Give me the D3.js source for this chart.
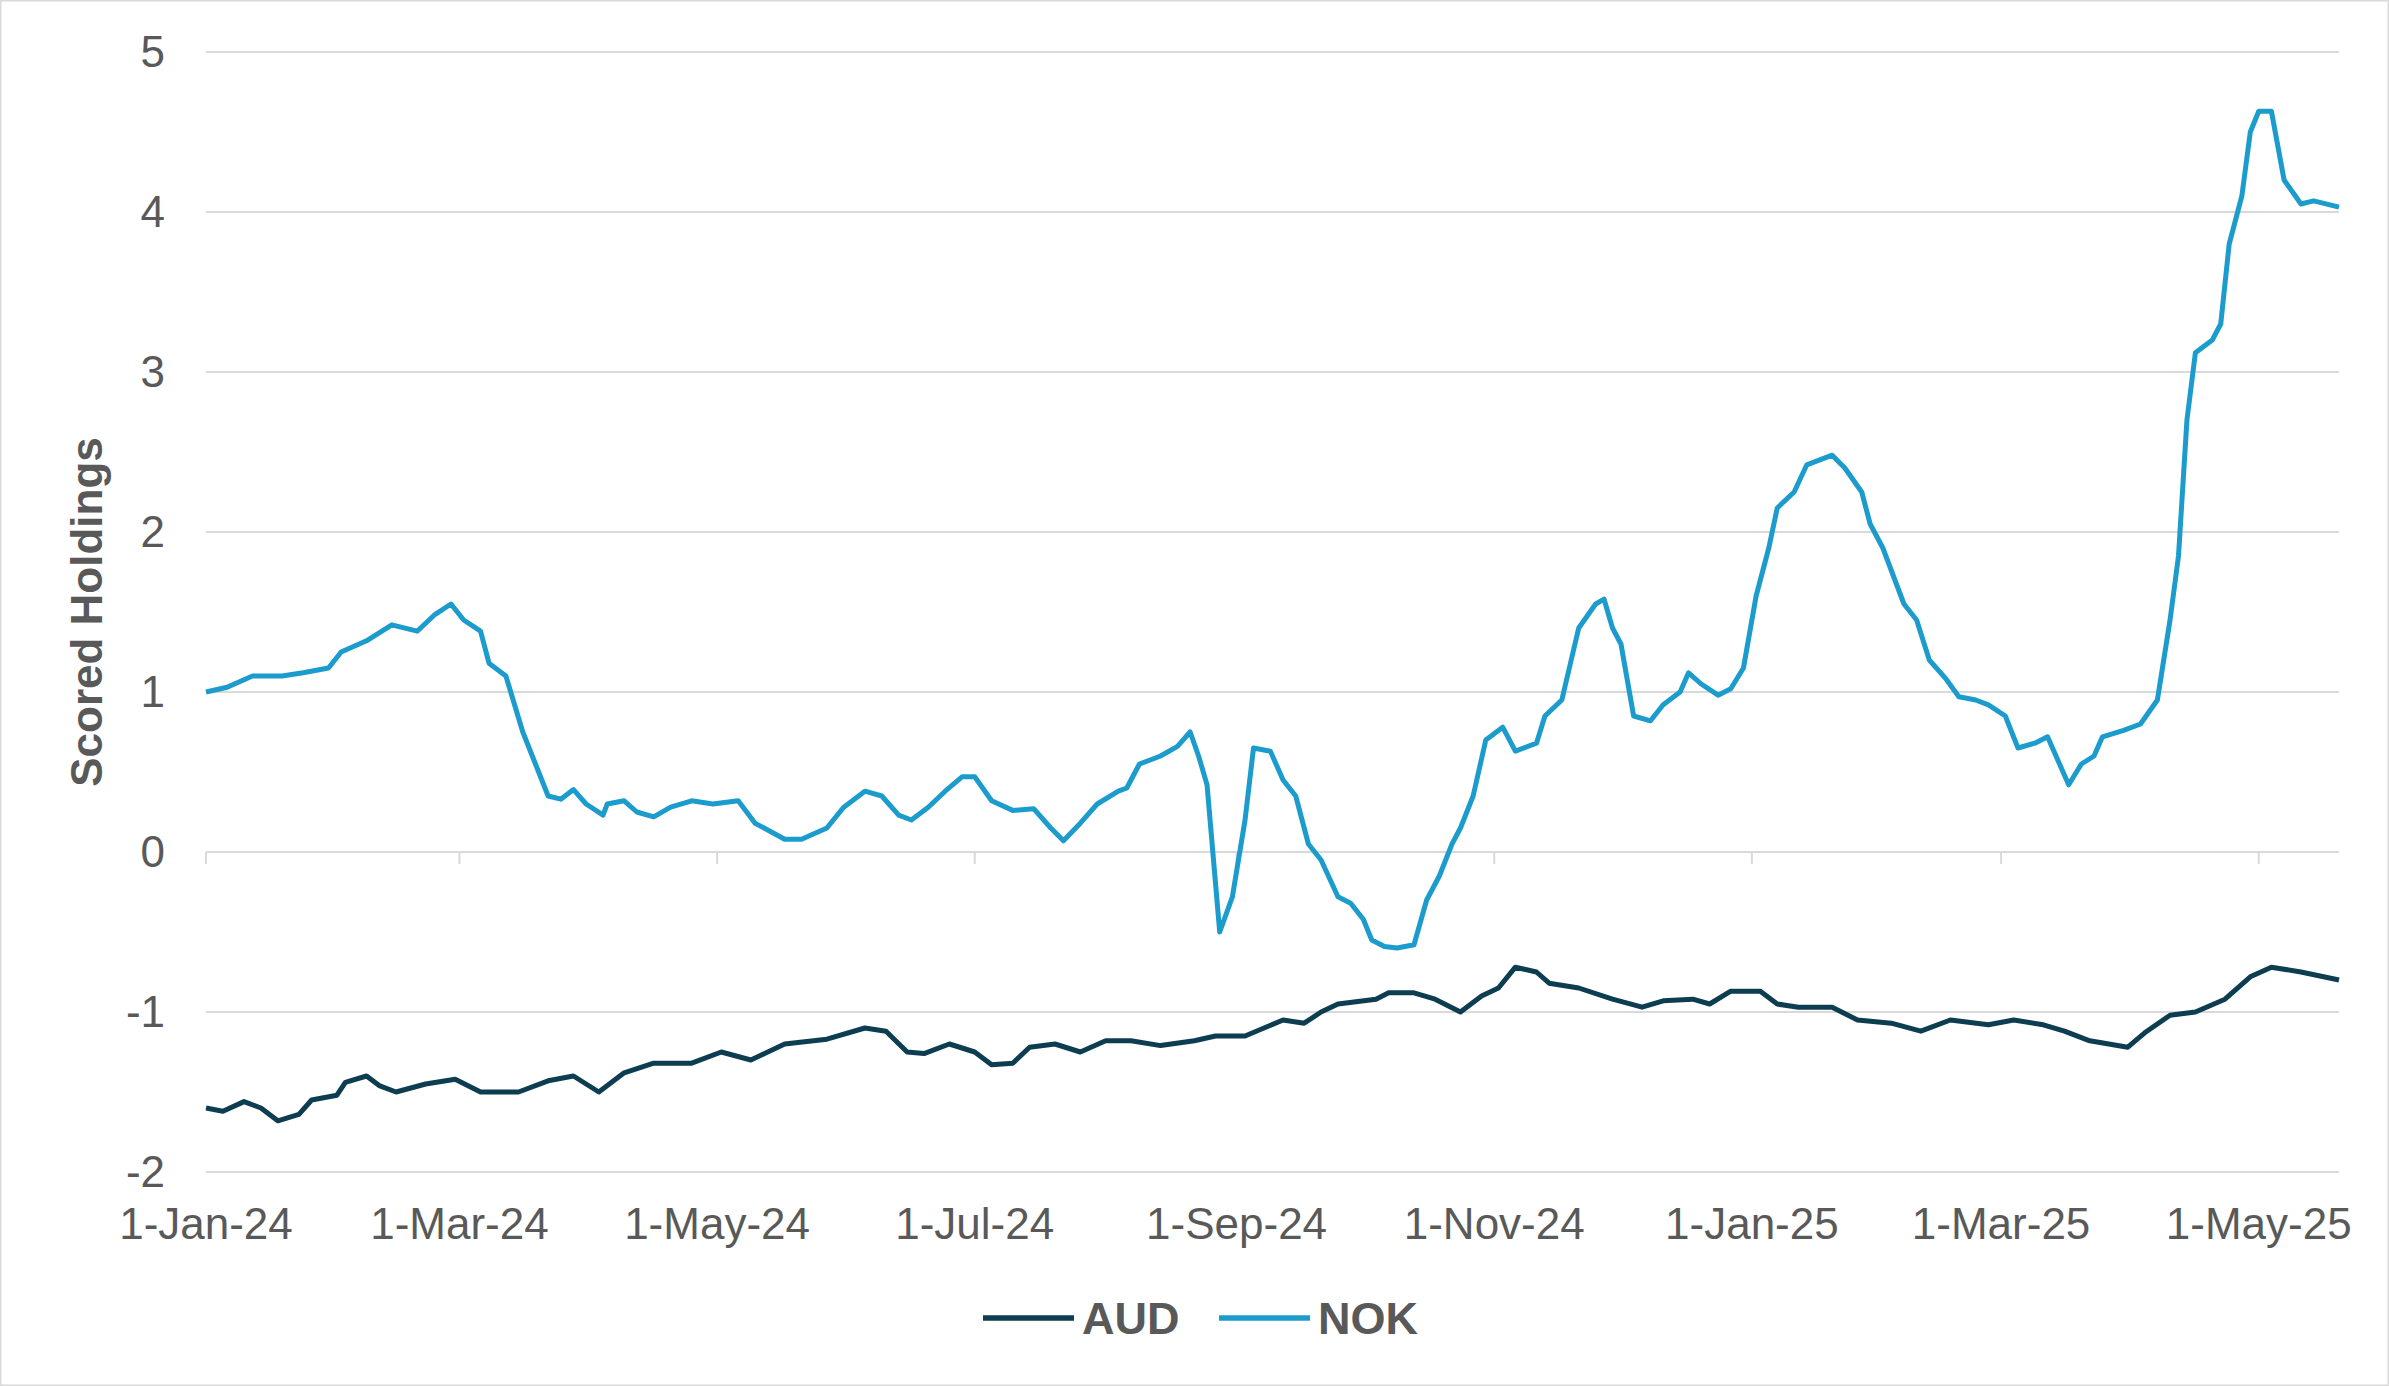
<!DOCTYPE html>
<html><head><meta charset="utf-8">
<script src="https://cdn.jsdelivr.net/npm/d3@7"></script>
<style>body{margin:0;background:#fff}svg{display:block}</style>
</head><body>
<svg id="c" width="2389" height="1386"></svg>
<script>
// days since 2024-01-01
const nokDays=[0,5,11,18,23,29,32,38,44,50,54,58,61,65,67,71,75,78,81,84,87,90,94,95,99,102,106,110,115,120,126,130,137,141,147,151,156,160,164,167,171,175,179,182,186,191,196,200,203,207,211,216,218,221,226,230,233,235,237,240,243,246,248,252,255,258,261,264,268,271,274,276,279,282,286,289,292,295,297,300,303,307,310,315,317,321,325,329,331,333,335,338,342,345,349,351,354,358,361,364,367,370,372,376,379,385,388,392,394,397,402,405,408,412,415,419,422,426,429,433,436,438,441,444,447,449,454,458,462,465,467,469,471,475,477,479,482,484,486,489,492,496,499,505];
const nokVals=[1.0,1.03,1.1,1.1,1.12,1.15,1.25,1.32,1.42,1.38,1.48,1.55,1.45,1.38,1.18,1.1,0.75,0.55,0.35,0.33,0.39,0.3,0.23,0.3,0.32,0.25,0.22,0.28,0.32,0.3,0.32,0.18,0.08,0.08,0.15,0.28,0.38,0.35,0.23,0.2,0.28,0.38,0.47,0.47,0.32,0.26,0.27,0.15,0.07,0.18,0.3,0.38,0.4,0.55,0.6,0.66,0.75,0.6,0.42,-0.5,-0.28,0.2,0.65,0.63,0.45,0.35,0.05,-0.05,-0.28,-0.32,-0.42,-0.55,-0.59,-0.6,-0.58,-0.3,-0.15,0.05,0.15,0.35,0.7,0.78,0.63,0.68,0.85,0.95,1.4,1.55,1.58,1.4,1.3,0.85,0.82,0.92,1.0,1.12,1.05,0.98,1.02,1.15,1.6,1.9,2.15,2.25,2.42,2.48,2.4,2.25,2.05,1.9,1.55,1.45,1.2,1.08,0.97,0.95,0.92,0.85,0.65,0.68,0.72,0.6,0.42,0.55,0.6,0.72,0.76,0.8,0.95,1.45,1.85,2.7,3.12,3.2,3.3,3.8,4.1,4.5,4.63,4.63,4.2,4.05,4.07,4.03];
const audDays=[0,4,9,13,17,22,25,31,33,38,41,45,52,59,65,74,81,87,93,99,106,115,122,129,137,147,156,161,166,170,176,182,186,191,195,201,207,213,219,226,234,239,246,255,260,264,268,277,280,286,291,297,302,306,310,315,318,325,333,340,345,352,356,361,368,372,377,385,391,399,406,413,422,428,435,440,446,455,459,465,471,478,484,489,496,505];
const audVals=[-1.6,-1.62,-1.56,-1.6,-1.68,-1.64,-1.55,-1.52,-1.44,-1.4,-1.46,-1.5,-1.45,-1.42,-1.5,-1.5,-1.43,-1.4,-1.5,-1.38,-1.32,-1.32,-1.25,-1.3,-1.2,-1.17,-1.1,-1.12,-1.25,-1.26,-1.2,-1.25,-1.33,-1.32,-1.22,-1.2,-1.25,-1.18,-1.18,-1.21,-1.18,-1.15,-1.15,-1.05,-1.07,-1.0,-0.95,-0.92,-0.88,-0.88,-0.92,-1.0,-0.9,-0.85,-0.72,-0.75,-0.82,-0.85,-0.92,-0.97,-0.93,-0.92,-0.95,-0.87,-0.87,-0.95,-0.97,-0.97,-1.05,-1.07,-1.12,-1.05,-1.08,-1.05,-1.08,-1.12,-1.18,-1.22,-1.13,-1.02,-1.0,-0.92,-0.78,-0.72,-0.75,-0.8];
const xTickLabels=["1-Jan-24","1-Mar-24","1-May-24","1-Jul-24","1-Sep-24","1-Nov-24","1-Jan-25","1-Mar-25","1-May-25"];
const xTickDates=["2024-01-01","2024-03-01","2024-05-01","2024-07-01","2024-09-01","2024-11-01","2025-01-01","2025-03-01","2025-05-01"];
const yTicks=[-2,-1,0,1,2,3,4,5];

const svg=d3.select("#c");
const L=206,R=2339,T=52,B=1172;
const start=new Date(2024,0,1);
const toDate=d=>d3.timeDay.offset(start,d);
const x=d3.scaleTime().domain([start,toDate(505)]).range([L,R]);
const y=d3.scaleLinear().domain([-2,5]).range([B,T]);
const font="Liberation Sans, Arial, sans-serif";
svg.append("rect").attr("x",0.5).attr("y",0.5).attr("width",2388).attr("height",1385).attr("fill","none").attr("stroke","#d9d9d9").attr("stroke-width",2);

svg.append("g").selectAll("line").data(yTicks.filter(v=>v!==0)).join("line")
 .attr("x1",L).attr("x2",R).attr("y1",d=>y(d)).attr("y2",d=>y(d)).attr("stroke","#d9d9d9").attr("stroke-width",2);
svg.append("line").attr("x1",L).attr("x2",R).attr("y1",y(0)).attr("y2",y(0)).attr("stroke","#d9d9d9").attr("stroke-width",2);
const parse=d3.timeParse("%Y-%m-%d");
svg.append("g").selectAll("line").data(xTickDates).join("line")
 .attr("x1",d=>x(parse(d))).attr("x2",d=>x(parse(d))).attr("y1",y(0)).attr("y2",y(0)+12).attr("stroke","#d9d9d9").attr("stroke-width",2);
svg.append("g").selectAll("text").data(xTickDates).join("text")
 .attr("x",d=>x(parse(d))).attr("y",1239).attr("text-anchor","middle").attr("font-family",font).attr("font-size",44).attr("fill","#595959")
 .text((d,i)=>xTickLabels[i]);
svg.append("g").selectAll("text").data(yTicks).join("text")
 .attr("x",165).attr("y",d=>y(d)+15).attr("text-anchor","end").attr("font-family",font).attr("font-size",44).attr("fill","#595959").text(d=>d);
svg.append("text").attr("transform","translate(102,612) rotate(-90)").attr("text-anchor","middle").attr("font-family",font).attr("font-size",44).attr("font-weight","bold").attr("fill","#595959").text("Scored Holdings");

const line=d3.line().x(d=>x(toDate(d[0]))).y(d=>y(d[1]));
svg.append("path").attr("d",line(audDays.map((d,i)=>[d,audVals[i]]))).attr("fill","none").attr("stroke","#0d3d51").attr("stroke-width",5).attr("stroke-linejoin","round");
svg.append("path").attr("d",line(nokDays.map((d,i)=>[d,nokVals[i]]))).attr("fill","none").attr("stroke","#1b9ccc").attr("stroke-width",5).attr("stroke-linejoin","round");

const leg=[{n:"AUD",c:"#0d3d51",x:983},{n:"NOK",c:"#1b9ccc",x:1219}];
leg.forEach(l=>{
 svg.append("line").attr("x1",l.x).attr("x2",l.x+91).attr("y1",1318).attr("y2",1318).attr("stroke",l.c).attr("stroke-width",5.5);
 svg.append("text").attr("x",l.x+99).attr("y",1334).attr("font-family",font).attr("font-size",45).attr("font-weight","bold").attr("fill","#595959").text(l.n);
});
</script>
</body></html>
